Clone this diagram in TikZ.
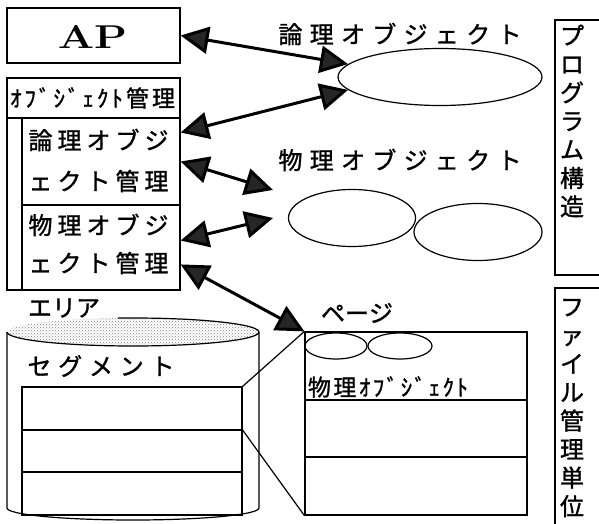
\documentclass[tikz,border=0pt]{standalone}
\usepackage{fontspec}
\newfontfamily\jp[FakeBold=1.2]{Noto Sans CJK JP}
\usetikzlibrary{shapes.geometric,arrows.meta,patterns,calc}
\newcommand{\spr}[2]{\makebox[#1pt]{#2}}
\begin{document}
\begin{tikzpicture}[x=1pt,y=-1pt,line width=1.2pt,
  box/.style={draw,rectangle,inner sep=0pt,line width=1.2pt},
  ell/.style={draw,ellipse,inner sep=0pt,line width=1.2pt},
  txt/.style={inner sep=0pt,font={\jp\fontsize{24}{28.5}\selectfont}},
  htxt/.style={inner sep=0pt,font={\jp\fontsize{23}{28}\selectfont}},
  dbl/.style={line width=3pt,{Triangle[length=28pt,width=27pt,fill=black!85]}-{Triangle[length=28pt,width=27pt,fill=black!85]}}]
\useasboundingbox (0,0) rectangle (599,524);

% top-left boxes
\node[box,minimum width=173pt,minimum height=55pt] (ap) at (93.5,35.5) {};
\node[inner sep=0pt,font=\fontsize{33}{38}\selectfont\bfseries,xscale=1.3] (aptext) at (92.5,37) {AP};
\node[box,minimum width=173pt,minimum height=212pt] (om) at (93.5,184) {};
\draw (om.west |- 0,118) -- (om.east |- 0,118);
\node[htxt] (omtext) at (92.5,98) {\spr{165}{ｵ\hfill ﾌ\hfill ﾞ\hfill ｼ\hfill ﾞ\hfill ｪ\hfill ｸ\hfill ﾄ\hfill 管\hfill 理}};
\node[box,minimum width=158pt,minimum height=87pt] (lmgr) at (101,161.5) {};
\node[box,minimum width=158pt,minimum height=85pt] (pmgr) at (101,247.5) {};
\node[txt] (lm1) at (98.5,140) {\spr{140}{論\hfill 理\hfill オ\hfill ブ\hfill ジ}};
\node[txt] (lm2) at (98.5,181) {\spr{140}{ェ\hfill ク\hfill ト\hfill 管\hfill 理}};
\node[txt] (pm1) at (98.5,225) {\spr{140}{物\hfill 理\hfill オ\hfill ブ\hfill ジ}};
\node[txt] (pm2) at (98.5,263) {\spr{140}{ェ\hfill ク\hfill ト\hfill 管\hfill 理}};

% objects
\node[txt] (lotext) at (400,34) {\spr{243}{論\hfill 理\hfill オ\hfill ブ\hfill ジ\hfill ェ\hfill ク\hfill ト}};
\node[ell,minimum width=204pt,minimum height=57pt] (lobj) at (440,77) {};
\node[txt] (potext) at (400,160) {\spr{243}{物\hfill 理\hfill オ\hfill ブ\hfill ジ\hfill ェ\hfill ク\hfill ト}};
\node[ell,minimum width=127pt,minimum height=57pt] (pobj1) at (352,218) {};
\node[ell,minimum width=128pt,minimum height=57pt] (pobj2) at (478,232) {};

% right frames
\node[box,minimum width=47pt,minimum height=255pt] (progbox) at (578.5,147.5) {};
\node[txt,align=center] (prog) at (572,121) {プ\\ロ\\グ\\ラ\\ム\\構\\造};
\node[box,minimum width=47pt,minimum height=245pt] (filebox) at (578.5,410.5) {};
\node[txt,align=center] (file) at (572,408) {フ\\ァ\\イ\\ル\\管\\理\\単\\位};

% cylinder (area)
\fill[pattern=crosshatch dots,pattern color=black!50] (133,332) ellipse [x radius=126,y radius=14];
\draw (7,332) -- (7,508) arc[start angle=180,end angle=0,x radius=126,y radius=12] -- (259,332);
\draw (7,332) arc[start angle=180,end angle=0,x radius=126,y radius=14];
\draw (259,332) arc[start angle=0,end angle=-97,x radius=126,y radius=14];
\node[txt] (area) at (64,308) {\spr{72}{エ\hfill リ\hfill ア}};
\node[txt] (segtext) at (101,366) {\spr{147}{セ\hfill グ\hfill メ\hfill ン\hfill ト}};
\node[box,minimum width=220pt,minimum height=128pt] (seg) at (132,451) {};
\draw (seg.west |- 0,430) -- (seg.east |- 0,430);
\draw (seg.west |- 0,472) -- (seg.east |- 0,472);
\coordinate (segd) at (seg.east |- 0,430);

% page
\node[txt] (pgtext) at (357,313) {\spr{66}{ペ\hfill ー\hfill ジ}};
\node[box,minimum width=222pt,minimum height=183pt] (page) at (416,423.5) {};
\draw (page.west |- 0,400) -- (page.east |- 0,400);
\draw (page.west |- 0,457) -- (page.east |- 0,457);
\node[ell,minimum width=62pt,minimum height=26pt] (pg1) at (336,346) {};
\node[ell,minimum width=64pt,minimum height=26pt] (pg2) at (400,346) {};
\node[htxt] (pgobj) at (388,387) {\spr{160}{物\hfill 理\hfill ｵ\hfill ﾌ\hfill ﾞ\hfill ｼ\hfill ﾞ\hfill ｪ\hfill ｸ\hfill ﾄ}};

\draw (seg.north east) -- (page.north west);
\draw (segd) -- (page.south west);

% arrows
\coordinate (t3) at (273,190);
\coordinate (t4) at (273,218);
\draw[dbl] (ap.east) -- (lobj.172);
\draw[dbl] (lmgr.20) -- (lobj.188);
\draw[dbl] (lmgr.east) -- (t3);
\draw[dbl] (pmgr.5) -- (t4);
\draw[dbl] (pmgr.-12) -- (page.north west);
\end{tikzpicture}
\end{document}
